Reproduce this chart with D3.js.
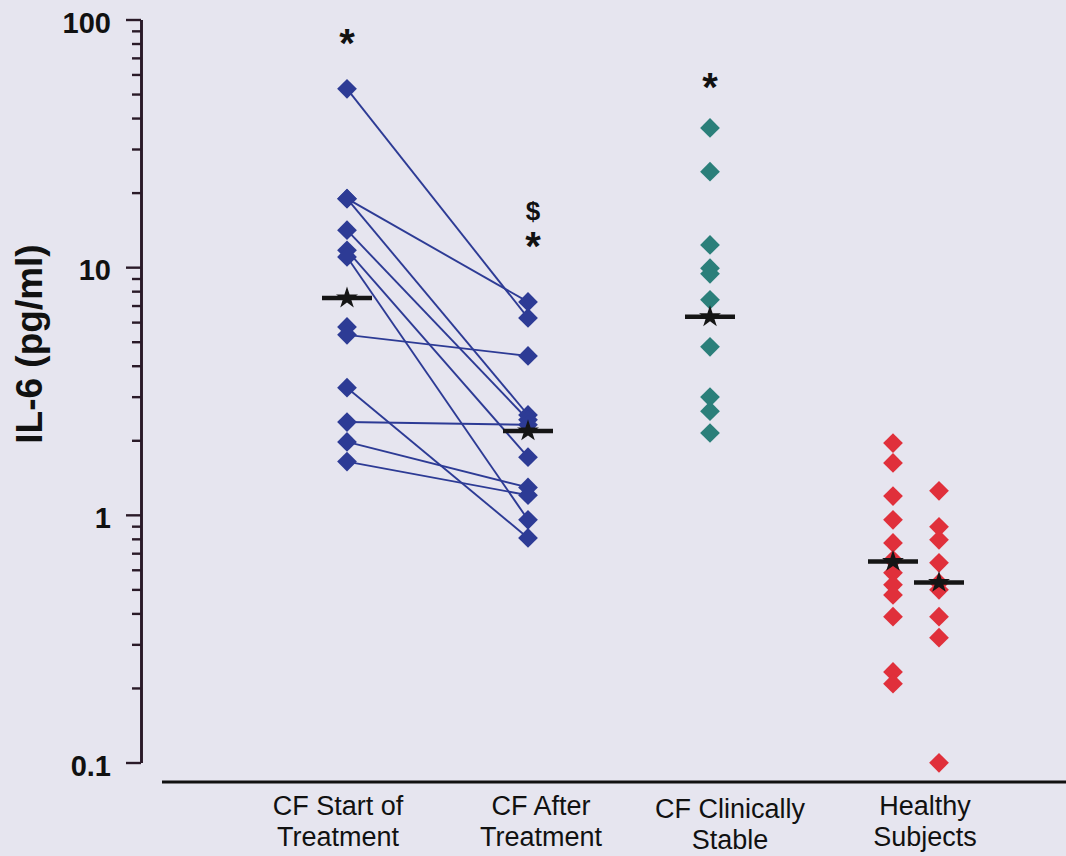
<!DOCTYPE html>
<html lang="en">
<head>
<meta charset="UTF-8">
<title>IL-6</title>
<script src="https://d3js.org/d3.v7.min.js"></script>
<style>
  body { margin: 0; background: #e6e5ef; }
  svg { display: block; }
</style>
</head>
<body>
<svg id="chart" width="1066" height="856"></svg>
<script>
// values (pg/ml)
const groups = ["start", "after", "stable", "healthyA", "healthyB"];
const categoryLabels = [["CF Start of", "Treatment"], ["CF After", "Treatment"], ["CF Clinically", "Stable"], ["Healthy", "Subjects"]];

// paired patients: start[i] -> after[i] (null = no follow-up)
const startValues = [52.5, 18.9, 18.9, 14.1, 11.7, 11.0, 5.74, 5.33, 3.26, 2.37, 1.97, 1.64];
const afterValues = [6.24, 7.24, 2.53, 2.42, 1.71, 0.955, null, 4.38, 0.807, 2.31, 1.29, 1.20];
const stableValues = [36.5, 24.3, 12.3, 9.9, 9.4, 7.38, 4.77, 2.99, 2.62, 2.14];
const healthyAValues = [1.95, 1.62, 1.19, 0.955, 0.77, 0.658, 0.583, 0.522, 0.475, 0.388, 0.232, 0.208];
const healthyBValues = [1.25, 0.895, 0.793, 0.64, 0.531, 0.498, 0.388, 0.319, 0.0997];
const medians = [7.5, 2.18, 6.3, 0.648, 0.533];

const yTicks = [0.1, 1, 10, 100];
const yTickLabels = ["0.1", "1", "10", "100"];

const svg = d3.select("#chart");

svg.append("rect").attr("width", 1066).attr("height", 856).attr("fill", "#e6e5ef");

const y = d3.scaleLog().domain([0.1, 100]).range([762.5, 19.5]);
const x = d3.scaleOrdinal().domain(groups).range([347, 528, 710, 893, 939]);
const labelX = d3.scaleOrdinal().domain(d3.range(4)).range([338, 541, 730, 925]);

const colors = {start: "#2d3b95", after: "#2d3b95", stable: "#2b7f7a", healthyA: "#e0303b", healthyB: "#e0303b"};

// y axis, major + minor ticks in their own groups
const minorTicks = [];
[0.1, 1, 10].forEach(dec => { for (let k = 2; k <= 9; k++) minorTicks.push(dec * k); });

const yMinor = svg.append("g").attr("transform", "translate(141,0)")
  .call(d3.axisLeft(y).tickValues(minorTicks).tickFormat("").tickSize(9).tickSizeOuter(0));
const yMajor = svg.append("g").attr("transform", "translate(141,0)")
  .call(d3.axisLeft(y).tickValues(yTicks).tickFormat("").tickSize(15).tickSizeOuter(0));
svg.selectAll(".domain").attr("stroke", "#2a1a28").attr("stroke-width", 2.6);
svg.selectAll(".tick line").attr("stroke", "#2a1a28").attr("stroke-width", 2.4);

svg.append("g").selectAll("text")
  .data(yTicks)
  .join("text")
  .attr("x", 111)
  .attr("y", d => y(d) + 13)
  .attr("text-anchor", "end")
  .style("font", "bold 29px 'Liberation Sans', Arial, sans-serif")
  .attr("fill", "#111")
  .text((d, i) => yTickLabels[i]);

svg.append("text")
  .attr("transform", "translate(42,344) rotate(-90)")
  .attr("text-anchor", "middle")
  .style("font", "bold 37px 'Liberation Sans', Arial, sans-serif")
  .attr("fill", "#111")
  .text("IL-6 (pg/ml)");

// x axis line
svg.append("line")
  .attr("x1", 162).attr("x2", 1066)
  .attr("y1", 782).attr("y2", 782)
  .attr("stroke", "#111").attr("stroke-width", 3);

const labels = svg.append("g").selectAll("text")
  .data(categoryLabels)
  .join("text")
  .attr("text-anchor", "middle")
  .style("font", "27px 'Liberation Sans', Arial, sans-serif")
  .attr("fill", "#111");
labels.selectAll("tspan")
  .data((d, i) => d.map(t => ({t, i})))
  .join("tspan")
  .attr("x", d => labelX(d.i))
  .attr("y", (d, j) => 815 + j * 31 + (d.i === 2 ? 3 : 0))
  .text(d => d.t);

// paired lines
const pairs = startValues.map((s, i) => ({s, a: afterValues[i]})).filter(p => p.a !== null);
svg.append("g").selectAll("line")
  .data(pairs)
  .join("line")
  .attr("x1", x("start")).attr("x2", x("after"))
  .attr("y1", d => y(d.s)).attr("y2", d => y(d.a))
  .attr("stroke", "#2d3b95").attr("stroke-width", 1.9);

// diamonds
const diamond = d3.symbol(d3.symbolSquare, 195);
const points = [].concat(
  startValues.map(v => ({g: "start", v})),
  afterValues.filter(v => v !== null).map(v => ({g: "after", v})),
  stableValues.map(v => ({g: "stable", v})),
  healthyAValues.map(v => ({g: "healthyA", v})),
  healthyBValues.map(v => ({g: "healthyB", v}))
);
svg.append("g").selectAll("path")
  .data(points)
  .join("path")
  .attr("d", diamond)
  .attr("transform", d => `translate(${x(d.g)},${y(d.v)}) rotate(45)`)
  .attr("fill", d => colors[d.g]);

// medians
const med = svg.append("g").selectAll("g")
  .data(medians)
  .join("g")
  .attr("transform", (d, i) => `translate(${x(groups[i])},${y(d)})`);
med.append("line")
  .attr("x1", -25).attr("x2", 25)
  .attr("stroke", "#151515").attr("stroke-width", 4.5);
med.append("path")
  .attr("d", d3.symbol(d3.symbolStar, 150))
  .attr("fill", "#151515");

// significance marks (cy = visual centre of the glyph)
const marks = [
  {g: "start", cy: 37, s: "*", size: 40, dx: 0},
  {g: "after", cy: 211, s: "$", size: 26, dx: 5},
  {g: "after", cy: 240, s: "*", size: 40, dx: 5},
  {g: "stable", cy: 81, s: "*", size: 40, dx: 0}
];
svg.append("g").selectAll("text")
  .data(marks)
  .join("text")
  .attr("x", d => x(d.g) + d.dx)
  .attr("y", d => d.cy + (d.s === "*" ? 20 : 9))
  .attr("text-anchor", "middle")
  .style("font", d => `bold ${d.size}px 'Liberation Sans', Arial, sans-serif`)
  .attr("fill", "#111")
  .text(d => d.s);
</script>
</body>
</html>
